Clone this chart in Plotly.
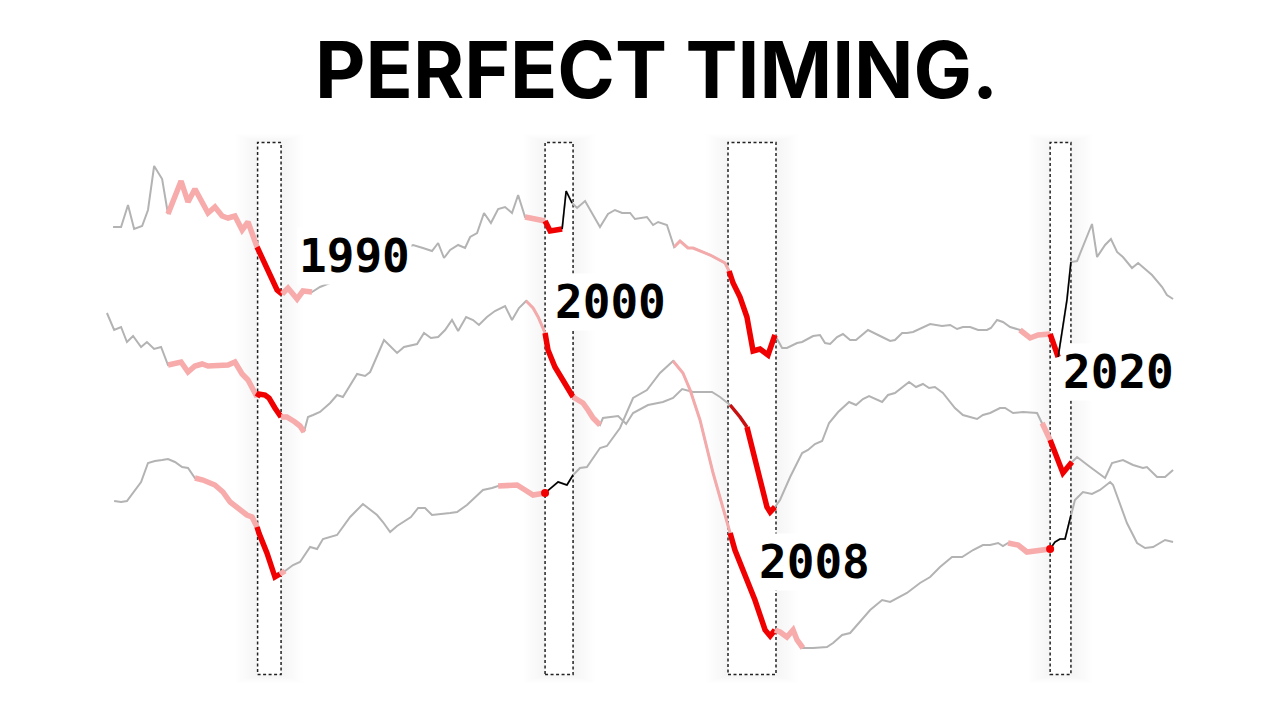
import plotly.graph_objects as go

# ---------------- data (x = year, y = index level) ----------------
a_x = [1985.24, 1985.54, 1985.80, 1986.03, 1986.33, 1986.55, 1986.78, 1987.08, 1987.30, 1987.79,
       1988.05, 1988.31, 1988.80, 1989.06, 1989.33, 1989.55, 1989.81, 1990.08, 1990.30, 1990.64,
       1990.75, 1991.39, 1991.58, 1991.80, 1992.14, 1992.36, 1992.70, 1993.00, 1993.38, 1993.56,
       1996.49, 1996.86, 1997.20, 1997.43, 1997.65, 1997.88, 1998.18, 1998.44, 1998.63, 1998.89,
       1999.15, 1999.41, 1999.68, 1999.94, 2000.20, 2000.43, 2000.69, 2001.14, 2001.44, 2001.63,
       2002.08, 2002.23, 2002.45, 2002.64, 2002.94, 2003.24, 2003.50, 2003.80, 2004.06, 2004.33,
       2004.63, 2004.81, 2005.26, 2005.49, 2005.68, 2006.01, 2006.28, 2006.50, 2006.80, 2006.99,
       2007.63, 2008.19, 2008.34, 2008.49, 2008.75, 2009.01, 2009.24, 2009.50, 2009.80, 2010.06,
       2010.33, 2010.51, 2010.89, 2011.08, 2011.49, 2011.75, 2011.94, 2012.13, 2012.39, 2012.61,
       2012.88, 2013.10, 2013.55, 2014.08, 2014.38, 2014.56, 2014.83, 2015.01, 2015.24, 2015.88,
       2016.33, 2016.63, 2016.89, 2017.11, 2017.38, 2017.68, 2018.01, 2018.16, 2018.39, 2018.61,
       2018.88, 2019.25, 2019.63, 2019.93, 2020.38, 2020.56, 2020.68, 2020.86, 2021.01, 2021.16,
       2021.39, 2021.95, 2022.14, 2022.44, 2022.66, 2022.89, 2023.11, 2023.45, 2023.68, 2024.20,
       2024.58, 2024.76, 2024.99]
a_y = [493, 493, 515, 491, 494, 510, 554, 541, 506, 539,
       518, 531, 507, 513, 504, 502, 504, 490, 498, 473,
       467, 430, 426, 432, 421, 429, 428, 433, 437, 443,
       475, 472, 469, 477, 462, 470, 475, 472, 483, 487,
       507, 497, 511, 513, 507, 525, 503, 501, 499, 489,
       491, 529, 517, 512, 519, 505, 493, 506, 510, 507,
       507, 501, 503, 495, 498, 495, 473, 479, 472, 472,
       465, 457, 449, 437, 423, 403, 369, 371, 365, 385,
       372, 372, 377, 378, 384, 385, 377, 376, 383, 386,
       380, 380, 390, 383, 379, 380, 387, 387, 388, 396,
       394, 395, 391, 393, 393, 390, 390, 392, 400, 398,
       393, 390, 382, 385, 386, 373, 363, 393, 420, 458,
       459, 496, 463, 475, 481, 468, 463, 452, 457, 445,
       433, 425, 421]

b_x = [1985.01, 1985.28, 1985.54, 1985.76, 1985.99, 1986.29, 1986.51, 1986.78, 1987.04, 1987.30,
       1987.79, 1988.05, 1988.31, 1988.58, 1988.80, 1989.55, 1989.81, 1990.08, 1990.30, 1990.64,
       1990.71, 1990.94, 1991.09, 1991.31, 1991.54, 1991.76, 1992.06, 1992.25, 1992.40, 1992.55,
       1992.74, 1993.00, 1993.38, 1993.64, 1993.86, 1994.39, 1994.69, 1994.88, 1995.40, 1995.89,
       1996.15, 1996.64, 1996.90, 1997.16, 1997.43, 1997.69, 1997.95, 1998.18, 1998.48, 1998.74,
       1998.96, 1999.26, 1999.56, 1999.94, 2000.20, 2000.46, 2000.73, 2000.99, 2001.18, 2001.44,
       2001.55, 2001.81, 2002.11, 2002.38, 2002.49, 2002.86, 2003.05, 2003.24, 2003.50, 2003.61,
       2004.18, 2004.48, 2004.74, 2005.30, 2005.86, 2006.24, 2006.58, 2006.99, 2007.70, 2008.00,
       2008.38, 2008.75, 2009.01, 2009.24, 2009.50, 2009.76, 2009.88, 2010.06, 2010.25, 2010.63,
       2011.08, 2011.30, 2011.56, 2011.83, 2012.09, 2012.43, 2012.84, 2013.10, 2013.36, 2013.59,
       2014.08, 2014.30, 2014.56, 2015.09, 2015.35, 2015.61, 2015.84, 2016.06, 2016.36, 2016.81,
       2017.11, 2017.64, 2017.86, 2018.13, 2018.50, 2018.69, 2018.99, 2019.36, 2019.89, 2020.08,
       2020.38, 2020.64, 2020.86, 2021.20, 2021.39, 2021.88, 2022.44, 2022.70, 2023.11, 2023.49,
       2023.86, 2024.01, 2024.39, 2024.69, 2024.99]
b_y = [407, 390, 393, 378, 384, 373, 378, 371, 373, 355,
       358, 348, 354, 356, 354, 355, 358, 346, 340, 323,
       326, 325, 322, 312, 303, 303, 298, 294, 288, 303,
       305, 308, 317, 325, 323, 346, 344, 348, 380, 367,
       373, 376, 387, 382, 383, 390, 400, 389, 403, 400,
       395, 403, 409, 414, 400, 412, 419, 412, 403, 387,
       370, 353, 340, 330, 323, 317, 310, 302, 295, 302,
       304, 296, 307, 315, 318, 322, 331, 328, 328, 323,
       315, 303, 293, 270, 240, 213, 208, 213, 220, 243,
       267, 270, 276, 279, 297, 308, 318, 315, 321, 324,
       318, 325, 327, 338, 333, 336, 332, 333, 327, 312,
       305, 301, 305, 307, 312, 312, 307, 308, 307, 297,
       280, 260, 247, 258, 263, 253, 242, 257, 260, 255,
       252, 253, 243, 243, 250]

c_x = [1985.28, 1985.54, 1985.76, 1986.29, 1986.55, 1986.81, 1987.08, 1987.30, 1987.56, 1987.83,
       1988.05, 1988.31, 1988.61, 1989.06, 1989.36, 1989.63, 1990.00, 1990.26, 1990.45, 1990.64,
       1990.71, 1991.01, 1991.31, 1991.50, 1991.69, 1991.99, 1992.25, 1992.63, 1992.89, 1993.11,
       1993.64, 1994.13, 1994.61, 1995.14, 1995.36, 1995.63, 1995.89, 1996.41, 1996.68, 1996.94,
       1997.20, 1997.88, 1998.14, 1998.51, 1998.89, 1999.11, 1999.45, 1999.68, 2000.39, 2000.69,
       2000.99, 2001.44, 2001.63, 2001.93, 2002.26, 2002.49, 2002.75, 2003.01, 2003.50, 2003.76,
       2004.25, 2004.74, 2005.26, 2005.75, 2006.24, 2006.61, 2006.88, 2007.25, 2007.74, 2008.08,
       2008.38, 2008.56, 2009.01, 2009.31, 2009.69, 2009.88, 2010.06, 2010.25, 2010.51, 2010.74,
       2010.89, 2011.11, 2011.49, 2012.01, 2012.24, 2012.58, 2012.88, 2013.25, 2013.63, 2014.08,
       2014.38, 2015.01, 2015.50, 2015.88, 2016.25, 2016.70, 2017.08, 2017.49, 2017.86, 2018.13,
       2018.43, 2018.61, 2018.80, 2019.18, 2019.51, 2019.89, 2020.38, 2020.56, 2020.75, 2020.94,
       2021.16, 2021.31, 2021.61, 2021.95, 2022.25, 2022.63, 2022.74, 2023.26, 2023.64, 2023.94,
       2024.24, 2024.69, 2024.99]
c_y = [219, 218, 219, 238, 257, 259, 260, 261, 258, 253,
       252, 242, 240, 235, 228, 218, 210, 205, 203, 193,
       187, 167, 143, 146, 149, 155, 158, 173, 171, 181,
       185, 203, 216, 205, 198, 188, 194, 203, 212, 212,
       205, 207, 208, 215, 224, 230, 232, 234, 235, 230,
       225, 227, 231, 238, 235, 245, 252, 253, 272, 274,
       292, 322, 330, 347, 359, 347, 330, 300, 247, 215,
       187, 170, 140, 120, 90, 84, 90, 88, 83, 90,
       80, 72, 72, 73, 77, 85, 87, 98, 110, 120,
       118, 127, 137, 143, 153, 163, 163, 170, 175, 175,
       177, 174, 177, 175, 168, 169, 171, 178, 181, 181,
       205, 220, 228, 226, 230, 238, 235, 197, 177, 172,
       173, 180, 178]

# recession windows (start, end) in years and their labels
recession_start = [1990.66, 2001.44, 2008.30, 2020.38]
recession_end = [1991.54, 2002.49, 2010.10, 2021.16]
recession_labels = ["1990", "2000", "2008", "2020"]
label_x = [1994.31, 2003.88, 2011.53, 2022.93]
label_y = [464, 418, 158, 348]

# highlighted stretches: (series, from, to, style)
highlights = [
    ("a", 1987.30, 1990.64, "pink"), ("a", 1990.64, 1991.58, "red"), ("a", 1991.58, 1992.70, "pink"),
    ("a", 2000.69, 2001.44, "pink"), ("a", 2001.44, 2002.08, "red"), ("a", 2002.08, 2002.45, "black"),
    ("a", 2006.28, 2008.34, "pinkthin"), ("a", 2008.34, 2010.06, "red"),
    ("a", 2019.25, 2020.38, "pink"), ("a", 2020.38, 2020.68, "red"), ("a", 2020.68, 2021.16, "black"),
    ("b", 1987.30, 1990.64, "pink"), ("b", 1990.64, 1991.54, "red"), ("b", 1991.54, 1992.40, "pink"),
    ("b", 2000.73, 2001.44, "pinkthin"), ("b", 2001.44, 2002.49, "red"), ("b", 2002.49, 2003.50, "pink"),
    ("b", 2008.38, 2009.01, "darkred"), ("b", 2009.01, 2010.06, "red"),
    ("b", 2020.08, 2020.38, "pink"), ("b", 2020.38, 2021.20, "red"),
    ("c", 1988.31, 1990.64, "pink"), ("c", 1990.64, 1991.50, "red"), ("c", 1991.50, 1991.69, "pink"),
    ("c", 1999.68, 2001.44, "pink"), ("c", 2001.44, 2002.49, "black"),
    ("c", 2006.24, 2008.38, "pinkthin"), ("c", 2008.38, 2010.06, "red"), ("c", 2010.06, 2011.11, "pink"),
    ("c", 2018.80, 2020.38, "pink"), ("c", 2020.38, 2021.16, "black"),
]
dots = [("c", 2001.44), ("c", 2020.38)]

# ---------------- styling ----------------
series = {"a": (a_x, a_y), "b": (b_x, b_y), "c": (c_x, c_y)}
styles = {
    "pink": dict(color="#f7abab", width=5.5),
    "pinkthin": dict(color="#f4aaaa", width=3),
    "red": dict(color="#f00000", width=5.5),
    "darkred": dict(color="#c81010", width=3.5),
    "black": dict(color="#000000", width=1.6),
}
GRAY = "#b3b3b3"
YR_PER_PX = 0.0375
X0, X1 = 1981.0, 1981.0 + 1280 * YR_PER_PX
Y0, Y1 = 0, 720
BOX_TOP, BOX_BOT = 577.5, 45.5

fig = go.Figure()

for key, (xs, ys) in series.items():
    fig.add_trace(go.Scatter(x=xs, y=ys, mode="lines",
                             line=dict(color=GRAY, width=2), hoverinfo="skip", showlegend=False))

for key, x_from, x_to, sty in highlights:
    xs, ys = series[key]
    sx = [x for x in xs if x_from - 1e-6 <= x <= x_to + 1e-6]
    sy = [y for x, y in zip(xs, ys) if x_from - 1e-6 <= x <= x_to + 1e-6]
    fig.add_trace(go.Scatter(x=sx, y=sy, mode="lines", line=styles[sty],
                             hoverinfo="skip", showlegend=False))

for key, xd in dots:
    xs, ys = series[key]
    idx = min(range(len(xs)), key=lambda i: abs(xs[i] - xd))
    fig.add_trace(go.Scatter(x=[xs[idx]], y=[ys[idx]], mode="markers",
                             marker=dict(color="#f00000", size=8), hoverinfo="skip", showlegend=False))

shapes = []
for s, e in zip(recession_start, recession_end):
    # soft shadow
    for k in range(1, 11):
        pad = k * 2.2
        shapes.append(dict(type="rect", xref="x", yref="y", layer="below",
                           x0=s - pad * YR_PER_PX, x1=e + pad * YR_PER_PX,
                           y0=BOX_BOT - pad * 0.4, y1=BOX_TOP + pad * 0.4,
                           line=dict(width=0), fillcolor="rgba(0,0,0,0.005)"))
    shapes.append(dict(type="rect", xref="x", yref="y", layer="below",
                       x0=s, x1=e, y0=BOX_BOT, y1=BOX_TOP,
                       line=dict(color="#222", width=1.5, dash="3px,2.5px"), fillcolor="white"))

annotations = [dict(text="PERFECT TIMING.", xref="paper", yref="paper", x=0.5125, y=0.903,
                    xanchor="center", yanchor="middle", showarrow=False,
                    font=dict(family="Inter", size=78, color="#000", weight=700))]
for t, lx, ly in zip(recession_labels, label_x, label_y):
    annotations.append(dict(text=t, x=lx, y=ly, xref="x", yref="y", showarrow=False,
                            xanchor="center", yanchor="middle", bgcolor="white", borderpad=1,
                            font=dict(family="DejaVu Sans Mono", size=46, color="#000", weight=700)))

fig.update_layout(
    width=1280, height=720, margin=dict(l=0, r=0, t=0, b=0),
    paper_bgcolor="white", plot_bgcolor="white",
    xaxis=dict(range=[X0, X1], visible=False, showgrid=False, zeroline=False),
    yaxis=dict(range=[Y0, Y1], visible=False, showgrid=False, zeroline=False),
    shapes=shapes, annotations=annotations, showlegend=False,
)
fig.write_html("out.html", config={"displayModeBar": False},
               post_script="document.body.style.margin='0';")
